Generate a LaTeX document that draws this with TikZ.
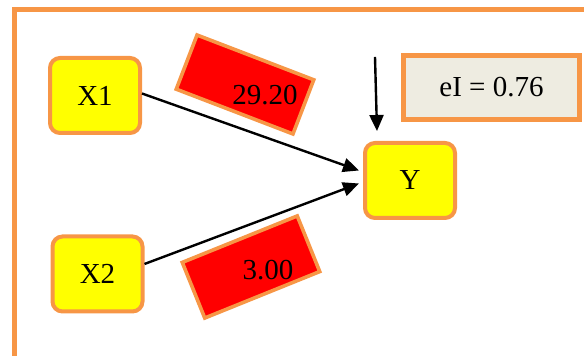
\documentclass[tikz,border=0pt]{standalone}
\usepackage{fontspec}
\setmainfont{Liberation Serif}
\usetikzlibrary{arrows.meta}
\definecolor{frameorange}{HTML}{F79646}
\definecolor{boxtan}{HTML}{EEECE1}
\definecolor{varyellow}{HTML}{FFFF00}

\begin{document}
\begin{tikzpicture}[x=0.5pt,y=0.5pt,
    varbox/.style={draw=frameorange,line width=2pt,fill=varyellow,rounded corners=5pt,
        minimum width=45pt,minimum height=37.5pt,font=\fontsize{14.5}{16}\selectfont},
    coefbox/.style={draw=frameorange,line width=1.8pt,fill=red,inner sep=0pt},
    effarrow/.style={line width=1.2pt,-{Triangle[length=8pt,width=7pt]}}]
                \useasboundingbox (0,0) rectangle (584,356);
                \begin{scope}
                \clip (0,0) rectangle (584,356);
                \draw[frameorange,line width=2.5pt] (14,346) -- (620,346) -- (620,-20) -- (14,-20) -- cycle;
                \end{scope}

                \node[coefbox,minimum width=62.5pt,minimum height=29pt,rotate=-21] (b1) at (245,271.5) {};
                \node[coefbox,minimum width=62pt,minimum height=30pt,rotate=22] (b2) at (251,89) {};
                \node[font=\fontsize{14.5}{16}\selectfont] (b1txt) at (265,261) {29.20};
                \node[font=\fontsize{14.5}{16}\selectfont] (b2txt) at (268,86) {3.00};

                \node[varbox] (x1) at (95,260.5) {X1};
                \node[varbox] (x2) at (97.5,82) {X2};
                \node[varbox] (y) at (410,175.5) {Y};

                \node[draw=frameorange,line width=2.2pt,fill=boxtan,minimum width=88pt,minimum height=32pt,
                    font=\fontsize{14.5}{16}\selectfont] (ei) at (491.5,268.5) {eI = 0.76};

                \coordinate (einoise) at (375,299);
                \coordinate (eitip) at (377,225);
                \draw[effarrow] (einoise) -- (eitip);
                \draw[effarrow] ([yshift=1pt]x1.east) -- ([xshift=-2pt,yshift=5pt]y.west);
                \draw[effarrow] ([yshift=5pt]x2.east) -- ([xshift=-2pt,yshift=-1.5pt]y.west);
            \end{tikzpicture}
\end{document}
